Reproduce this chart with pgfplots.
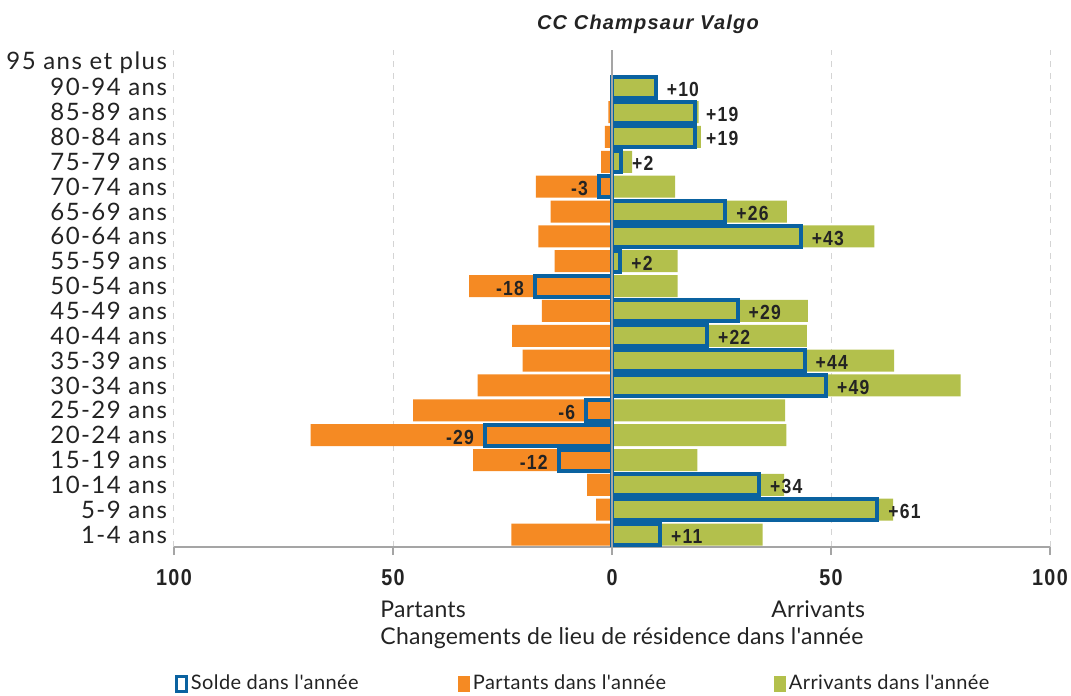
\documentclass[border=0pt]{standalone}
\usepackage{fontspec}
\setmainfont{Lato}
\newfontfamily\txt{Lato}[LetterSpace=1]
\newfontfamily\leg{Lato}[LetterSpace=2]
\newfontfamily\catfont{Lato}[LetterSpace=6]
\newfontfamily\lab{Liberation Sans}[FakeStretch=0.86, LetterSpace=6]
\newfontfamily\ttl{Liberation Sans}[LetterSpace=6]
\usepackage{pgfplots}
\usepackage{pgfplotstable}
\pgfplotsset{compat=1.18}

\definecolor{cOr}{RGB}{245,138,35}
\definecolor{cGr}{RGB}{179,192,76}
\definecolor{cBl}{RGB}{10,98,160}
\definecolor{cAx}{RGB}{165,165,165}
\definecolor{cGrid}{RGB}{212,212,212}
\definecolor{cTxt}{RGB}{35,35,35}

% k = row (0 = 1-4 ans ... 18 = 90-94 ans)
\pgfplotstableread{
k P
0 -23.0
1 -3.6
2 -5.7
3 -31.7
4 -68.8
5 -45.4
6 -30.7
7 -20.4
8 -22.8
9 -16.0
10 -32.6
11 -13.1
12 -16.8
13 -14.0
14 -17.4
15 -2.5
16 -1.6
17 -0.8
}\partants

\pgfplotstableread{
k A
0 34.4
1 64.2
2 39.3
3 19.5
4 39.8
5 39.5
6 79.6
7 64.4
8 44.5
9 44.7
10 15.0
11 15.0
12 59.9
13 39.9
14 14.4
15 4.6
16 20.3
17 19.8
18 10.0
}\arrivants

\pgfplotstableread{
k S
0 11.0
1 60.6
2 33.6
3 -12.2
4 -29.0
5 -5.9
6 48.9
7 44.0
8 21.7
9 28.7
10 -17.6
11 1.9
12 43.1
13 25.9
14 -3.0
15 2.1
16 19.0
17 19.0
18 10.0
}\solde

\begin{document}
\begin{tikzpicture}
\useasboundingbox (0,0) rectangle (535.5pt,348pt);
\begin{axis}[
  at={(87pt,74.5pt)}, anchor=south west,
  width=438pt, height=248.5pt, scale only axis,
  xmin=-100, xmax=100, ymin=-0.5, ymax=19.5,
  clip=false,
  xtick={-100,-50,0,50,100},
  xticklabels={100,50,0,50,100},
  ytick={0,...,19},
  yticklabels={1-4 ans,5-9 ans,10-14 ans,15-19 ans,20-24 ans,25-29 ans,30-34 ans,35-39 ans,40-44 ans,45-49 ans,50-54 ans,55-59 ans,60-64 ans,65-69 ans,70-74 ans,75-79 ans,80-84 ans,85-89 ans,90-94 ans,95 ans et plus},
  axis x line*=bottom,
  axis y line*=left,
  y axis line style={draw=none},
  x axis line style={cAx, line width=0.9pt, -},
  xtick align=outside,
  major tick length=4pt,
  xtick style={cAx, line width=0.7pt},
  ytick style={draw=none},
  xmajorgrids,
  major grid style={cGrid, dashed, line width=0.5pt},
  xticklabel style={font=\lab\bfseries\fontsize{11.5}{13}\selectfont, text=cTxt, yshift=-3.5pt},
  yticklabel style={font=\catfont\fontsize{12}{14}\selectfont, text=cTxt},
  legend columns=3,
  legend style={at={(0.001,-0.2757)}, anchor=west, draw=none, fill=none, inner sep=0pt,
    font=\leg\fontsize{10}{12}\selectfont, text=cTxt, nodes={inner xsep=1.5pt}},
  legend cell align=left,
]
\addlegendimage{legend image code/.code={\draw[cBl, fill=white, line width=1.5pt] (0.75pt,-3.6pt) rectangle (5.6pt,3.9pt);}}
\addlegendentry{\makebox[132pt][l]{Solde dans l'année}}
\addlegendimage{legend image code/.code={\fill[cOr] (0pt,-3.6pt) rectangle (5.6pt,4pt);}}
\addlegendentry{\makebox[149pt][l]{Partants dans l'année}}
\addlegendimage{legend image code/.code={\fill[cGr] (0pt,-3.6pt) rectangle (5.6pt,4pt);}}
\addlegendentry{Arrivants dans l'année}

\addplot[xbar, bar shift=0pt, bar width=11pt, fill=cOr, draw=none, forget plot]
  table[x=P, y=k] {\partants};
\addplot[xbar, bar shift=0pt, bar width=11pt, fill=cGr, draw=none, forget plot]
  table[x=A, y=k] {\arrivants};
\addplot[xbar, bar shift=0pt, bar width=10.5pt, fill=none, draw=cBl, line width=2pt, forget plot,
  point meta=x,
  nodes near coords={\pgfmathprintnumber[fixed, precision=0, showpos, assume math mode=true]{\pgfplotspointmeta}},
  nodes near coords align=horizontal,
  every node near coord/.append style={font=\lab\bfseries\fontsize{10.2}{12}\selectfont, text=cTxt, inner xsep=4.5pt, yshift=-1pt}]
  table[x=S, y=k] {\solde};

\draw[cAx, line width=0.8pt] (axis cs:0,-0.5) -- (axis cs:0,19.5);

\node[anchor=west, inner sep=0pt, font=\txt\fontsize{11.5}{13}\selectfont, text=cTxt] at (axis description cs:0.2352,-0.1248) {Partants};
\node[anchor=west, inner sep=0pt, font=\txt\fontsize{11.5}{13}\selectfont, text=cTxt] at (axis description cs:0.6815,-0.1248) {Arrivants};
\node[anchor=west, inner sep=0pt, font=\txt\fontsize{11.5}{13}\selectfont, text=cTxt] at (axis description cs:0.2352,-0.1831) {Changements de lieu de résidence dans l'année};
\node[font=\ttl\bfseries\itshape\fontsize{10}{12}\selectfont, text=cTxt] at (axis description cs:0.541,1.0513) {CC Champsaur Valgo};
\end{axis}
\end{tikzpicture}
\end{document}
